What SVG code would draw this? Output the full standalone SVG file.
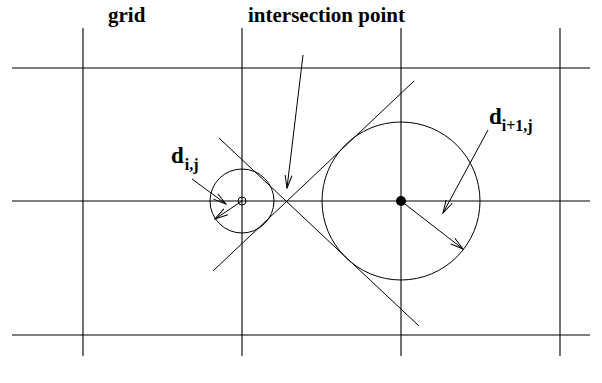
<svg xmlns="http://www.w3.org/2000/svg" width="602" height="383" viewBox="0 0 602 383">
<style>
.ln{stroke:#000;stroke-width:1;fill:none}
.g{stroke:#000;stroke-width:1.1;fill:none}
.ar{stroke:#000;stroke-width:1;fill:none;marker-end:url(#ah)}
.t{font-family:"Liberation Serif",serif;font-weight:bold;fill:#000}
</style>
<defs>
<marker id="ah" viewBox="0 0 14 10" refX="13" refY="5" markerWidth="14" markerHeight="10" markerUnits="userSpaceOnUse" orient="auto">
<polyline points="0,1.5 13,5 0,8.5" fill="none" stroke="#000" stroke-width="1"/>
</marker>
</defs>
<rect width="602" height="383" fill="#fff"/>
<g id="grid">
<line class="g" x1="83" y1="28" x2="83" y2="356"/>
<line class="g" x1="242" y1="28" x2="242" y2="356"/>
<line class="g" x1="401" y1="28" x2="401" y2="356"/>
<line class="g" x1="560" y1="28" x2="560" y2="356"/>
<line class="g" x1="12" y1="68" x2="590" y2="68"/>
<line class="g" x1="12" y1="201" x2="590" y2="201"/>
<line class="g" x1="12" y1="335" x2="590" y2="335"/>
</g>
<g id="small-circle">
<circle class="ln" cx="242" cy="201" r="32"/>
<circle class="ln" cx="242" cy="201" r="4"/>
</g>
<g id="big-circle">
<circle class="ln" cx="401" cy="201" r="79"/>
<circle cx="401" cy="201" r="5" fill="#000"/>
</g>
<g id="tangents">
<line class="ln" x1="219" y1="138" x2="419" y2="326"/>
<line class="ln" x1="213" y1="271" x2="414" y2="81"/>
</g>
<g id="connectors">
<line class="ar" x1="303" y1="55" x2="287" y2="188"/>
<line class="ar" x1="192" y1="179" x2="226" y2="204"/>
<line class="ar" x1="242" y1="201" x2="215" y2="219"/>
<line class="ar" x1="488" y1="130" x2="443" y2="213"/>
<line class="ar" x1="401" y1="201" x2="463" y2="249"/>
</g>
<g id="labels">
<text class="t" x="108" y="22" font-size="21">grid</text>
<text class="t" x="248" y="22" font-size="21">intersection point</text>
<text class="t" x="171" y="163" font-size="23">d<tspan font-size="16" dx="1" dy="7">i,j</tspan></text>
<text class="t" x="489" y="124" font-size="23">d<tspan font-size="16" dx="0" dy="7">i+1,j</tspan></text>
</g>
</svg>
